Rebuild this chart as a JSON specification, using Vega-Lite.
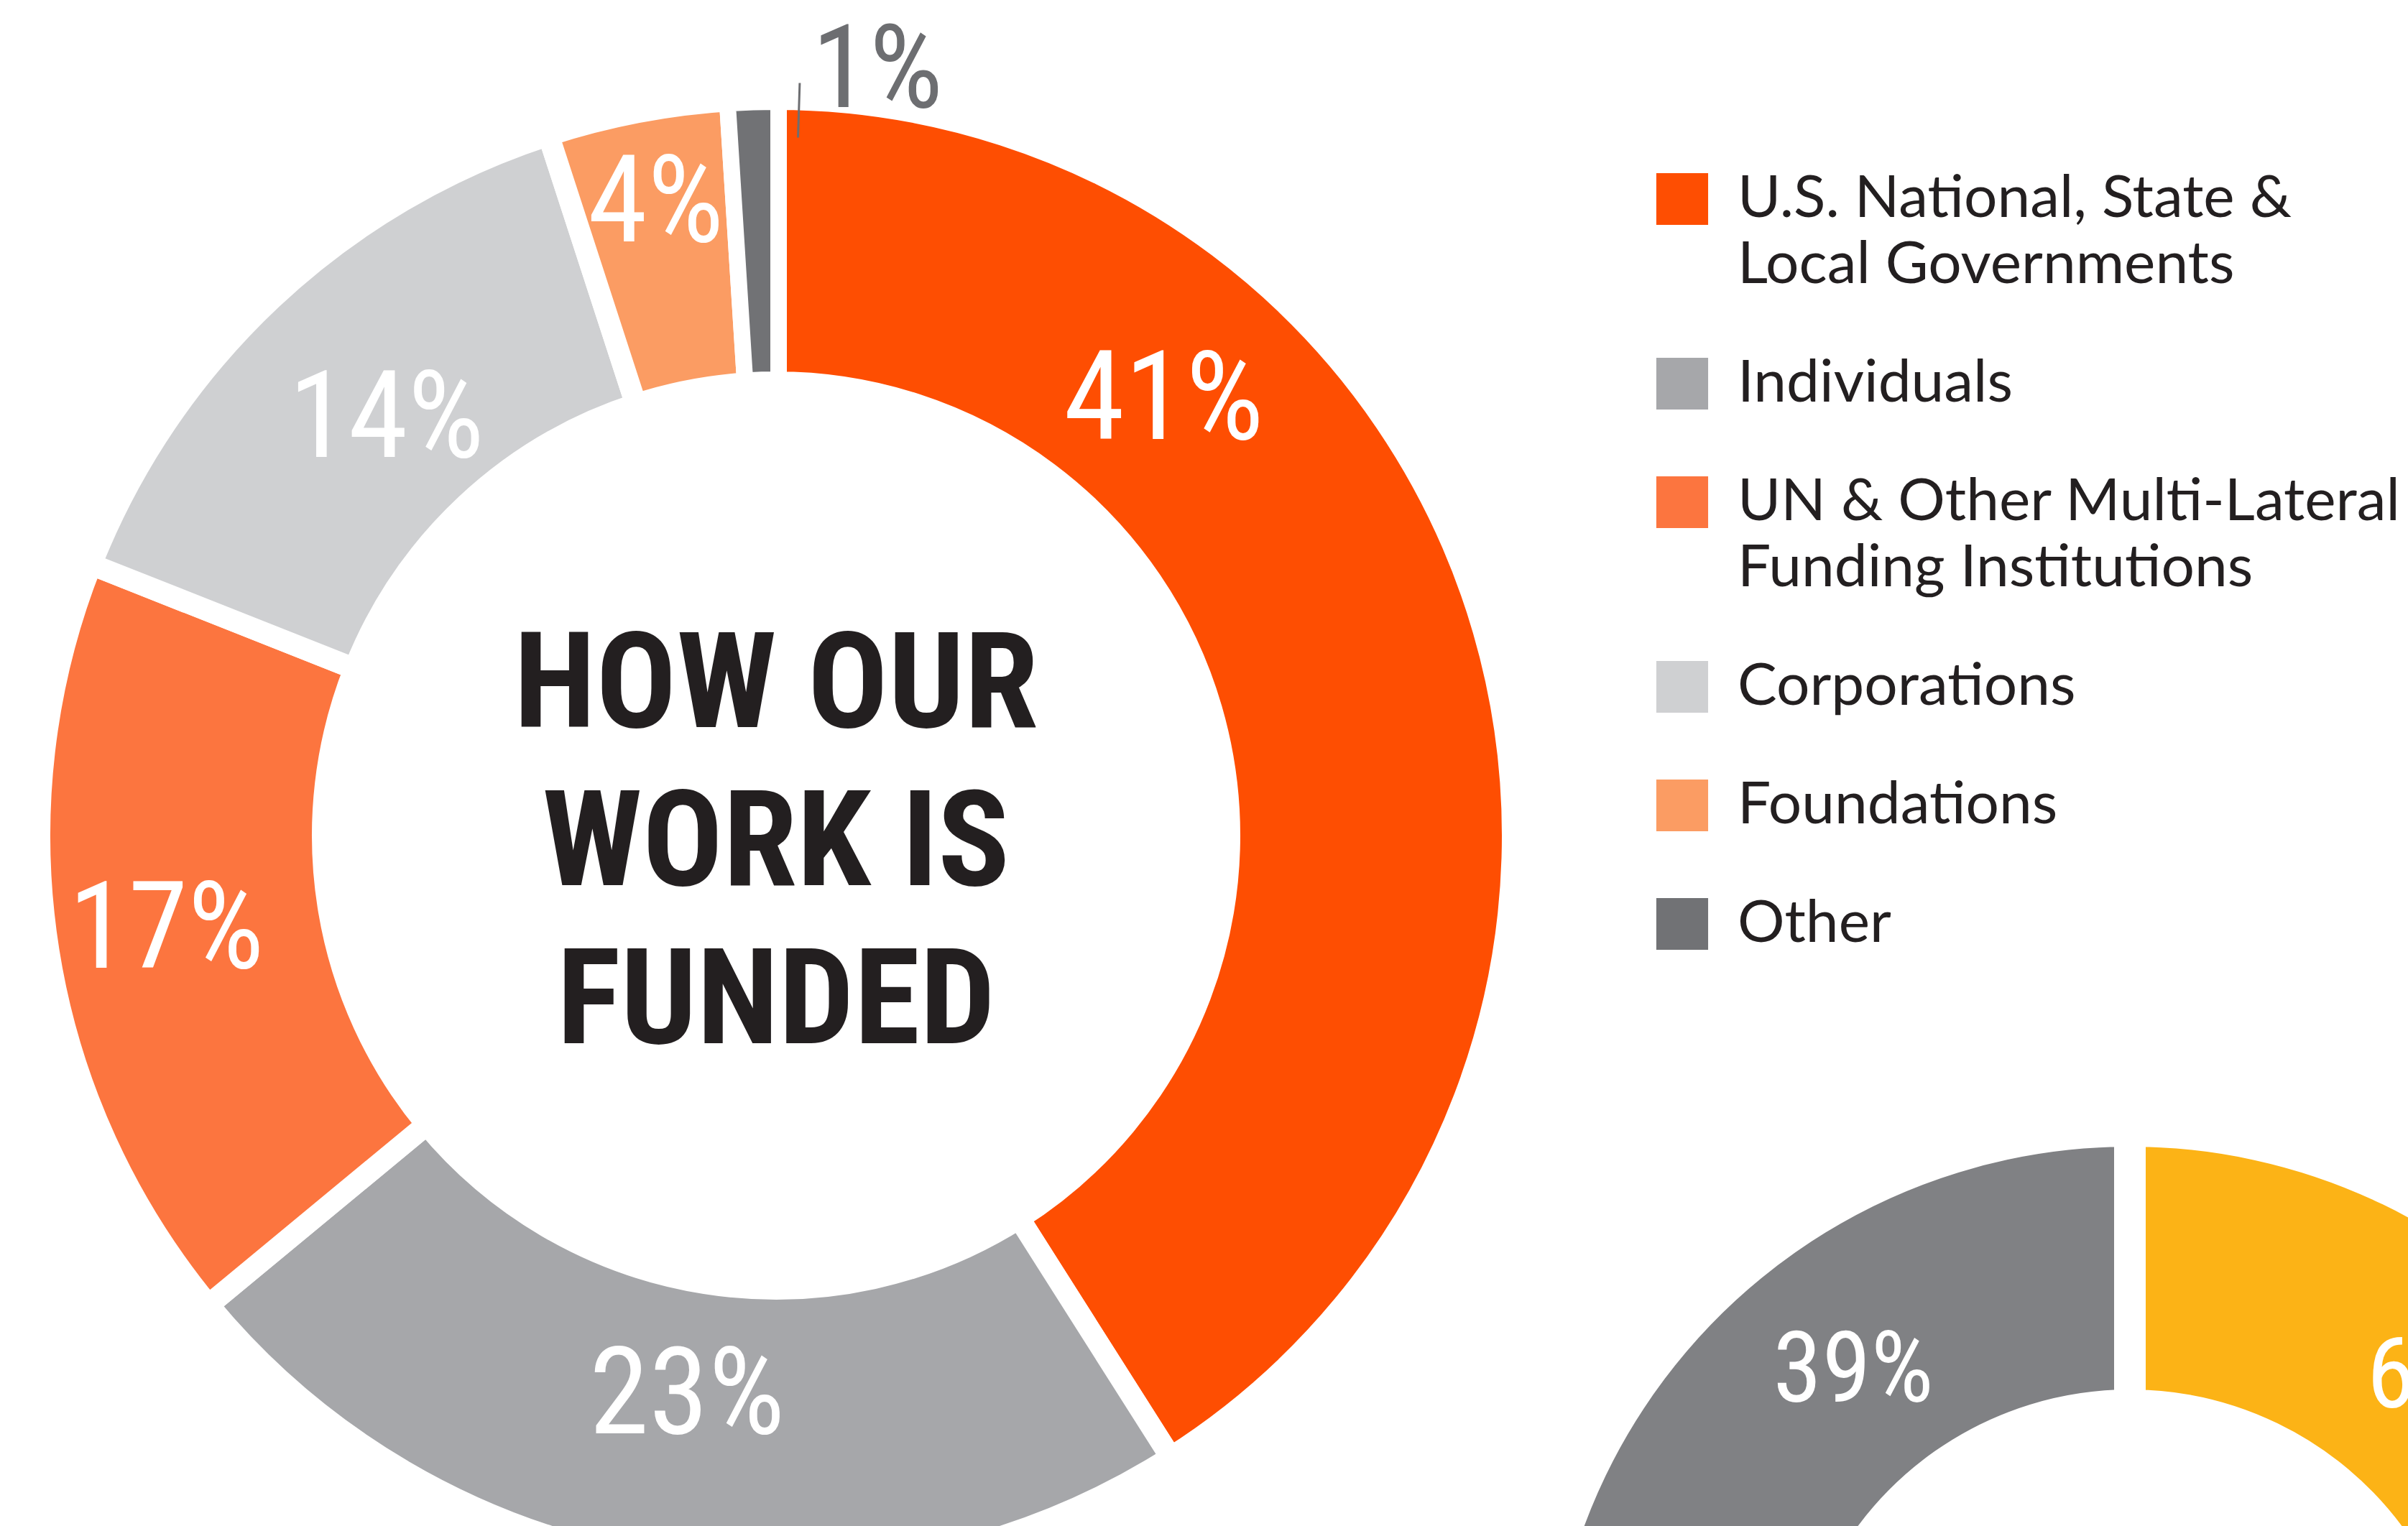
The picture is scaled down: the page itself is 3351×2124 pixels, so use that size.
{
  "$schema": "https://vega.github.io/schema/vega-lite/v6.json",
  "width": 3351,
  "height": 2124,
  "autosize": {"type": "none"},
  "padding": 0,
  "background": "white",
  "config": {
    "view": {"stroke": null},
    "style": {"guide-label": {"lineHeight": 92}},
    "legend": {
      "orient": "none",
      "legendX": 2300,
      "legendY": 236,
      "symbolType": "square",
      "symbolSize": 5200,
      "symbolStrokeWidth": 0,
      "labelFont": "Lato",
      "labelFontSize": 82,
      "labelColor": "#231f20",
      "labelLimit": 0,
      "labelOffset": 36,
      "rowPadding": 83,
      "titlePadding": 0
    }
  },
  "datasets": {
    "funding": [
      {"chart": "funding", "source": "U.S. National, State & Local Governments", "value": 41, "label": "41%", "rank": 1},
      {"chart": "funding", "source": "Individuals", "value": 23, "label": "23%", "rank": 2},
      {"chart": "funding", "source": "UN & Other Multi-Lateral Funding Institutions", "value": 17, "label": "17%", "rank": 3},
      {"chart": "funding", "source": "Corporations", "value": 14, "label": "14%", "rank": 4},
      {"chart": "funding", "source": "Foundations", "value": 4, "label": "4%", "rank": 5},
      {"chart": "funding", "source": "Other", "value": 1, "label": "1%", "rank": 6}
    ],
    "second": [
      {"chart": "second", "part": "Yellow share", "value": 61, "label": "61%", "rank": 1},
      {"chart": "second", "part": "Gray share", "value": 39, "label": "39%", "rank": 2}
    ],
    "title": [
      {"chart": "funding", "text": "HOW OUR\nWORK IS\nFUNDED"}
    ]
  },
  "encoding": {
    "x": {"field": "chart", "type": "nominal", "scale": {"type": "point", "padding": 0, "domain": ["funding", "second"], "range": [1080, 2964]}, "axis": null},
    "y": {"field": "chart", "type": "nominal", "scale": {"type": "point", "padding": 0, "domain": ["funding", "second"], "range": [1163, 2406]}, "axis": null}
  },
  "layer": [
    {
      "data": {"name": "funding"},
      "mark": {"type": "arc", "outerRadius": 1025, "innerRadius": 631, "stroke": "white", "strokeWidth": 30},
      "encoding": {
        "theta": {"field": "value", "type": "quantitative", "stack": true},
        "order": {"field": "rank", "type": "quantitative"},
        "color": {
          "field": "source",
          "type": "nominal",
          "scale": {
            "domain": ["U.S. National, State & Local Governments", "Individuals", "UN & Other Multi-Lateral Funding Institutions", "Corporations", "Foundations", "Other"],
            "range": ["#fe4e02", "#a6a7aa", "#fc753f", "#cfd0d2", "#fb9c63", "#717275"]
          },
          "legend": {
            "title": null,
            "labelExpr": "datum.label == 'U.S. National, State & Local Governments' ? ['U.S. National, State &', 'Local Governments'] : datum.label == 'UN & Other Multi-Lateral Funding Institutions' ? ['UN & Other Multi-Lateral', 'Funding Institutions'] : datum.label"
          }
        }
      }
    },
    {
      "data": {"name": "funding"},
      "mark": {"type": "arc", "outerRadius": 1018, "innerRadius": 638, "fill": "#717275", "stroke": "white", "strokeWidth": 16},
      "encoding": {
        "theta": {"field": "value", "type": "quantitative", "stack": true},
        "order": {"field": "rank", "type": "quantitative"},
        "opacity": {"condition": {"test": "datum.rank == 6", "value": 1}, "value": 0}
      }
    },
    {
      "data": {"name": "funding"},
      "mark": {"type": "text", "radius": 792, "font": "Roboto Condensed, Liberation Sans Narrow, DejaVu Sans Condensed, Liberation Sans, sans-serif", "fontSize": 168, "color": "white", "align": "center", "baseline": "middle"},
      "encoding": {
        "theta": {"field": "value", "type": "quantitative", "stack": true},
        "order": {"field": "rank", "type": "quantitative"},
        "text": {"condition": {"test": "datum.rank == 2 || datum.rank == 4", "field": "label"}, "value": ""}
      }
    },
    {
      "data": {"name": "funding"},
      "mark": {"type": "text", "radius": 859, "font": "Roboto Condensed, Liberation Sans Narrow, DejaVu Sans Condensed, Liberation Sans, sans-serif", "fontSize": 168, "color": "white", "align": "center", "baseline": "middle"},
      "encoding": {
        "theta": {"field": "value", "type": "quantitative", "stack": true},
        "order": {"field": "rank", "type": "quantitative"},
        "text": {"condition": {"test": "datum.rank == 3", "field": "label"}, "value": ""}
      }
    },
    {
      "data": {"name": "funding"},
      "mark": {"type": "text", "radius": 893, "font": "Roboto Condensed, Liberation Sans Narrow, DejaVu Sans Condensed, Liberation Sans, sans-serif", "fontSize": 168, "color": "white", "align": "center", "baseline": "middle"},
      "encoding": {
        "theta": {"field": "value", "type": "quantitative", "stack": true},
        "order": {"field": "rank", "type": "quantitative"},
        "text": {"condition": {"test": "datum.rank == 5", "field": "label"}, "value": ""}
      }
    },
    {
      "data": {"name": "funding"},
      "transform": [{"filter": "datum.rank == 1"}],
      "mark": {"type": "text", "radius": 810, "font": "Roboto Condensed, Liberation Sans Narrow, DejaVu Sans Condensed, Liberation Sans, sans-serif", "fontSize": 172, "color": "white", "align": "center", "baseline": "middle"},
      "encoding": {
        "theta": {"datum": 11.6, "type": "quantitative"},
        "text": {"field": "label"}
      }
    },
    {
      "data": {"name": "funding"},
      "transform": [{"filter": "datum.rank == 6"}],
      "mark": {"type": "text", "radius": 1072, "font": "Roboto Condensed, Liberation Sans Narrow, DejaVu Sans Condensed, Liberation Sans, sans-serif", "fontSize": 162, "color": "#6d6e71", "align": "center", "baseline": "middle"},
      "encoding": {
        "theta": {"datum": 2.1, "type": "quantitative"},
        "text": {"field": "label"}
      }
    },
    {
      "data": {"name": "funding"},
      "transform": [{"filter": "datum.rank == 6"}],
      "mark": {"type": "arc", "outerRadius": 1048, "innerRadius": 972, "stroke": "#6d6e71", "strokeWidth": 3, "fill": null},
      "encoding": {
        "theta": {"datum": 0.5, "type": "quantitative"},
        "theta2": {"datum": 0.5}
      }
    },
    {
      "data": {"name": "second"},
      "mark": {"type": "arc", "outerRadius": 832, "innerRadius": 450, "stroke": "white", "strokeWidth": 44},
      "encoding": {
        "theta": {"field": "value", "type": "quantitative", "stack": true},
        "order": {"field": "rank", "type": "quantitative"},
        "color": {
          "field": "part",
          "type": "nominal",
          "scale": {"domain": ["Yellow share", "Gray share"], "range": ["#fcb316", "#808184"]},
          "legend": null
        }
      }
    },
    {
      "data": {"name": "second"},
      "transform": [{"filter": "datum.rank == 2"}],
      "mark": {"type": "text", "radius": 628, "font": "Roboto Condensed, Liberation Sans Narrow, DejaVu Sans Condensed, Liberation Sans, sans-serif", "fontSize": 138, "color": "white", "align": "center", "baseline": "middle"},
      "encoding": {
        "theta": {"datum": 89.5, "type": "quantitative"},
        "text": {"field": "label"}
      }
    },
    {
      "data": {"name": "second"},
      "transform": [{"filter": "datum.rank == 1"}],
      "mark": {"type": "text", "radius": 658, "font": "Roboto Condensed, Liberation Sans Narrow, DejaVu Sans Condensed, Liberation Sans, sans-serif", "fontSize": 138, "color": "white", "align": "center", "baseline": "middle"},
      "encoding": {
        "theta": {"datum": 11.7, "type": "quantitative"},
        "text": {"field": "label"}
      }
    },
    {
      "data": {"name": "title"},
      "mark": {"type": "text", "font": "Roboto Condensed, Liberation Sans Narrow, DejaVu Sans Condensed, Liberation Sans, sans-serif", "fontWeight": "bold", "fontSize": 186, "lineHeight": 220, "lineBreak": "\n", "dy": -207, "color": "#231f20", "align": "center", "baseline": "middle"},
      "encoding": {
        "text": {"field": "text"}
      }
    }
  ],
  "resolve": {"scale": {"color": "independent"}}
}
